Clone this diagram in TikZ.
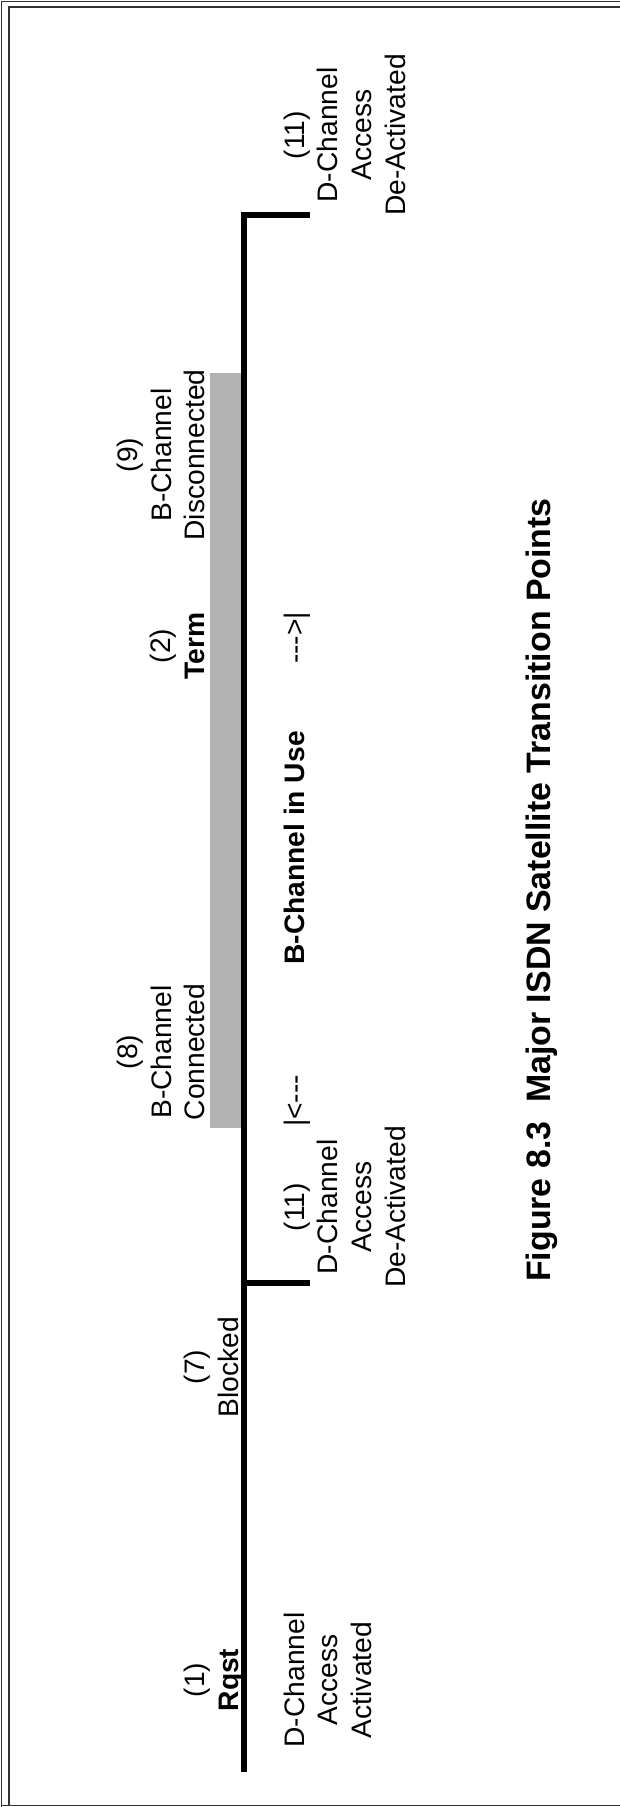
\documentclass[tikz,border=0pt]{standalone}
\usepackage{fontspec}
\setmainfont{Liberation Sans}
\begin{document}
\begin{tikzpicture}[x=1pt,y=-1pt,
  lbl/.style={rotate=90, anchor=base, inner sep=0pt, font=\fontsize{28.2}{33.6}\selectfont},
  blbl/.style={lbl, font=\fontsize{28.2}{33.6}\selectfont\bfseries},
  caplbl/.style={lbl, font=\fontsize{33.9}{40}\selectfont\bfseries},
  frame/.style={line width=1.3pt, black!80},
  timeline/.style={line width=5.5pt, line join=miter},
  band/.style={fill=black!30, draw=none}]
\useasboundingbox (0,0) rectangle (620,1807);
% frame
\draw[frame] (1.5,1807) -- (1.5,1.5) -- (620,1.5);
\draw[frame] (9,1805) -- (9,7) -- (620,7);
\draw[frame] (1.5,1805.5) -- (620,1805.5);
% shaded band
\fill[band] (210,373) rectangle (241.5,1128);
% timeline
\coordinate (topend) at (310,215);
\coordinate (corner) at (244,215);
\coordinate (tick) at (244,1283);
\coordinate (tickend) at (310,1283);
\coordinate (bot) at (244,1772);
\draw[timeline] (topend) -- (corner) -- (bot);
\draw[timeline] (tick) -- (tickend);
% top (11)
\node[lbl] (t11a) at (304,135) {(11)};
\node[lbl] (t11b) at (337.5,135) {D-Channel};
\node[lbl] (t11c) at (371,135) {Access};
\node[lbl] (t11d) at (405,135) {De-Activated};
% (9)
\node[lbl] (n9a) at (137,455) {(9)};
\node[lbl] (n9b) at (171,455) {B-Channel};
\node[lbl] (n9c) at (204,455) {Disconnected};
% (2)
\node[lbl] (n2a) at (170,646) {(2)};
\node[blbl] (n2b) at (204,646) {Term};
% B-Channel in use
\node[lbl] (arrR) at (304,638) {-{}-{}->|};
\node[blbl] (use) at (304,848) {B-Channel in Use};
\node[lbl] (arrL) at (304,1101) {|<-{}-{}-};
% (8)
\node[lbl] (n8a) at (137,1052) {(8)};
\node[lbl] (n8b) at (171,1052) {B-Channel};
\node[lbl] (n8c) at (204,1052) {Connected};
% middle (11)
\node[lbl] (m11a) at (304,1207) {(11)};
\node[lbl] (m11b) at (337.5,1207) {D-Channel};
\node[lbl] (m11c) at (371,1207) {Access};
\node[lbl] (m11d) at (405,1207) {De-Activated};
% (7)
\node[lbl] (n7a) at (204.5,1367) {(7)};
\node[lbl] (n7b) at (238,1367) {Blocked};
% (1)
\node[lbl] (n1a) at (204.5,1680) {(1)};
\node[blbl] (n1b) at (238,1680) {Rqst};
\node[lbl] (n1c) at (304,1680) {D-Channel};
\node[lbl] (n1d) at (337.5,1680) {Access};
\node[lbl] (n1e) at (371,1680) {Activated};
% caption
\node[caplbl] (cap) at (550,890) {Figure 8.3\ \ Major ISDN Satellite Transition Points};
\end{tikzpicture}
\end{document}
